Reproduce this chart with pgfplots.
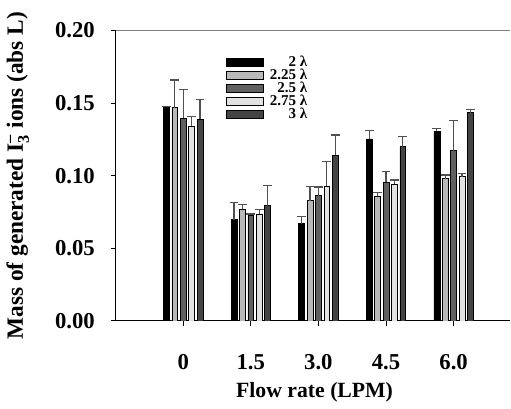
\documentclass[border=0pt]{standalone}
\usepackage{pgfplots}
\pgfplotsset{compat=1.18}
\usepackage{amsmath}
\usepackage{fontspec}
\setmainfont{Liberation Serif}
\definecolor{cA}{HTML}{000000}
\definecolor{cB}{HTML}{B8B8B8}
\definecolor{cC}{HTML}{606060}
\definecolor{cD}{HTML}{E2E2E2}
\definecolor{cE}{HTML}{444444}
\definecolor{errc}{HTML}{505050}
\begin{document}
\begin{tikzpicture}
\begin{axis}[
  name=ax,
  scale only axis,
  width=200pt, height=147pt,
  ybar=1.25pt, bar width=3pt,
  xmin=-1, xmax=4.84,
  ymin=0, ymax=0.2,
  axis x line*=bottom, axis y line*=left,
  axis line style={black, line width=0.6pt},
  tick align=outside,
  major tick length=2.5pt,
  tick style={black, line width=0.5pt},
  xtick={0,1,2,3,4},
  xticklabels={0,1.5,3.0,4.5,6.0},
  ytick={0,0.05,0.10,0.15,0.20},
  yticklabel style={/pgf/number format/fixed, /pgf/number format/fixed zerofill, /pgf/number format/precision=2, xshift=-4.5pt},
  /pgf/number format/assume math mode=true,
  ticklabel style={font=\bfseries\fontsize{11.5}{13}\selectfont},
  xticklabel style={yshift=-11pt},
  every axis y label/.style={at={(axis description cs:-0.2475,0.5)}, rotate=90, anchor=center},
  every axis x label/.style={at={(axis description cs:0.504,-0.245)}, anchor=center},
  label style={font=\bfseries\fontsize{11}{13}\selectfont},
  ylabel style={font=\bfseries\fontsize{11.8}{13}\selectfont},
  xlabel={Flow rate (LPM)},
  ylabel={Mass of generated I$_{\text{3}}^{\text{--}}$ ions (abs L)},
  error bars/y dir=plus, error bars/y explicit,
  error bars/error bar style={errc, line width=0.6pt},
  error bars/error mark options={errc, rotate=90, mark size=2.2pt, line width=0.6pt},
  legend image code/.code={\draw[#1, draw=black, line width=0.3pt] (0pt,-2pt) rectangle (19pt,2pt);
    \path[draw=none, fill=none] (19pt,0pt) -- (21.5pt,0pt);},
  legend cell align=right,
  legend style={draw=none, fill=none, at={(axis description cs:0.2775,0.92)}, anchor=north west,
    font=\bfseries\fontsize{7.6}{7.6}\selectfont, row sep=-1.9pt, inner sep=0pt,
    nodes={inner sep=0.8pt}},
]
\addplot[fill=cA, draw=black, line width=0.3pt] coordinates {(0,0.1474) +- (0,0.0005) (1,0.0698) +- (0,0.012) (2,0.0669) +- (0,0.005) (3,0.1254) +- (0,0.006) (4,0.1308) +- (0,0.0015)};
\addplot[fill=cB, draw=black, line width=0.3pt] coordinates {(0,0.147) +- (0,0.019) (1,0.077) +- (0,0.003) (2,0.0828) +- (0,0.010) (3,0.0857) +- (0,0.003) (4,0.098) +- (0,0.0025)};
\addplot[fill=cC, draw=black, line width=0.3pt] coordinates {(0,0.1395) +- (0,0.020) (1,0.0726) +- (0,0.001) (2,0.0862) +- (0,0.006) (3,0.0957) +- (0,0.007) (4,0.1172) +- (0,0.021)};
\addplot[fill=cD, draw=black, line width=0.3pt] coordinates {(0,0.134) +- (0,0.007) (1,0.0737) +- (0,0.003) (2,0.093) +- (0,0.017) (3,0.0941) +- (0,0.003) (4,0.0993) +- (0,0.0023)};
\addplot[fill=cE, draw=black, line width=0.3pt] coordinates {(0,0.139) +- (0,0.0136) (1,0.0793) +- (0,0.014) (2,0.114) +- (0,0.014) (3,0.120) +- (0,0.007) (4,0.1435) +- (0,0.0023)};
\legend{2 λ,2.25 λ,2.5 λ,2.75 λ,3 λ}
\draw[gray, line width=0.8pt] (rel axis cs:0,1) -- (rel axis cs:1,1);
\end{axis}
\path ([shift={(-55pt,-38.5pt)}]ax.south west) rectangle ([shift={(0pt,15.5pt)}]ax.north east);
\end{tikzpicture}
\end{document}
